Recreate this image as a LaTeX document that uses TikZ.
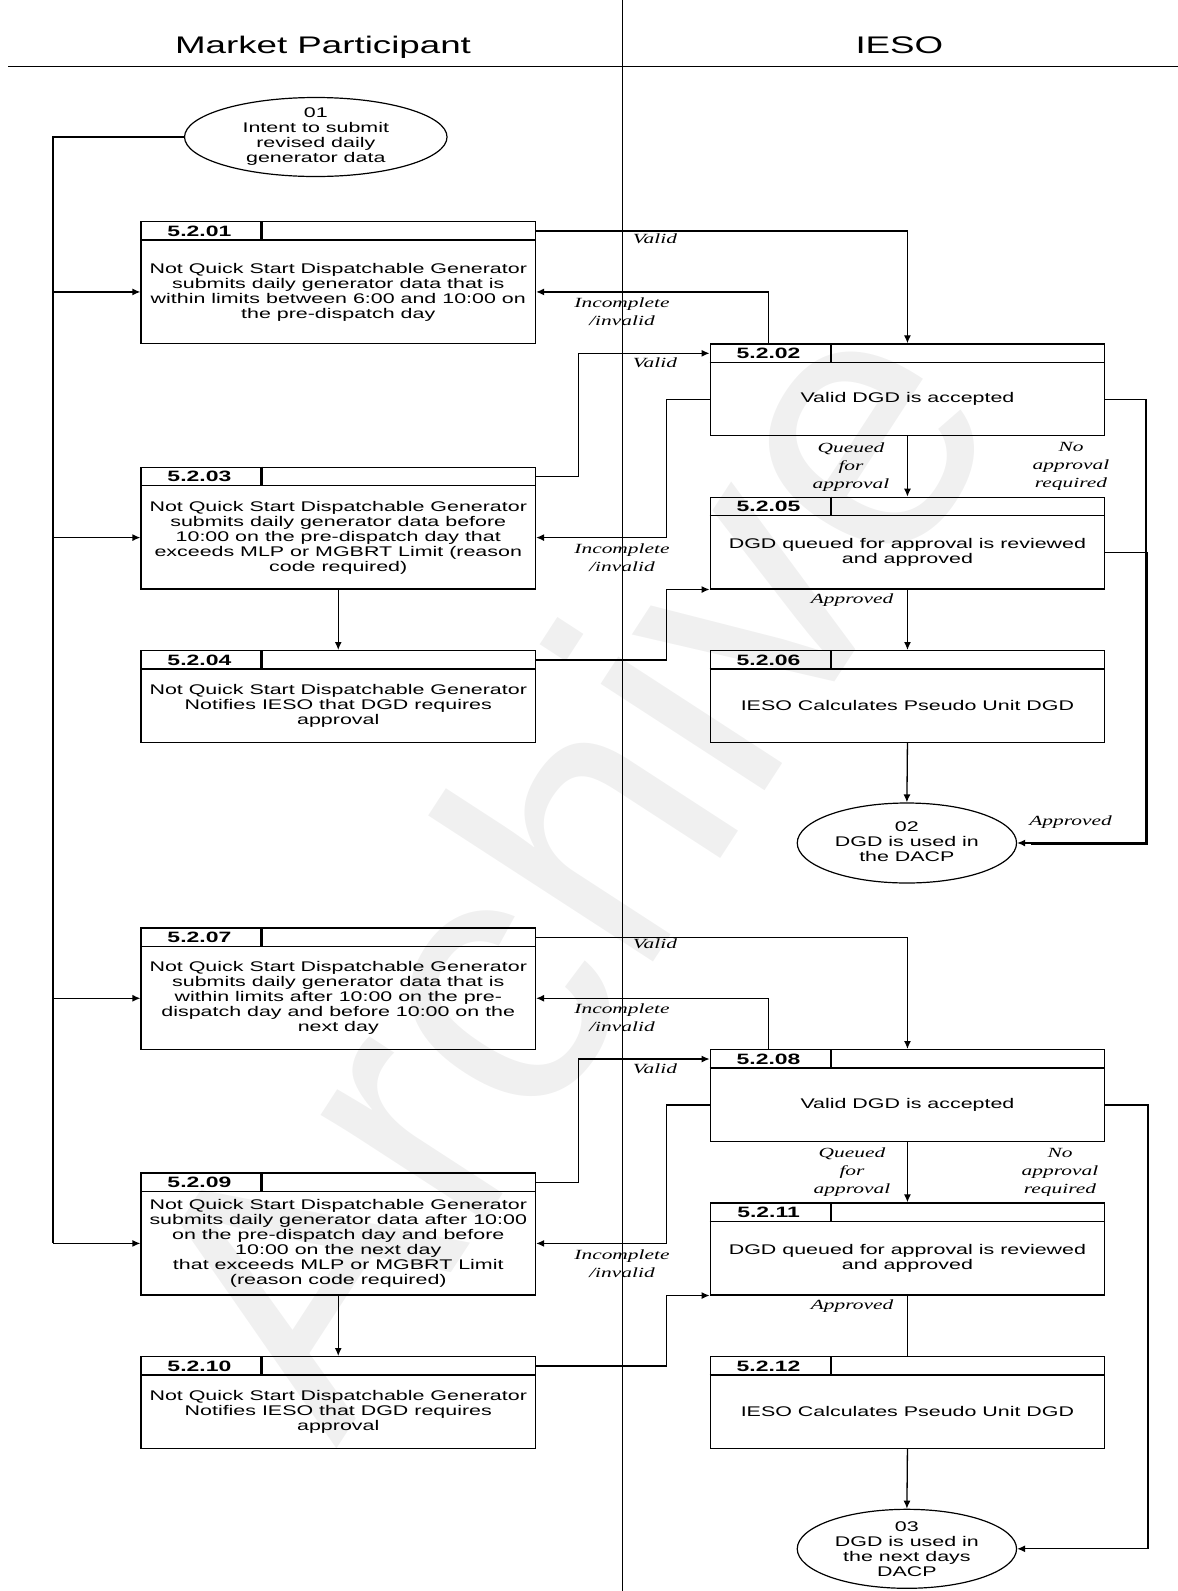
\documentclass[tikz,border=0pt]{standalone}
\usepackage{fontspec}
\setmainfont{Liberation Sans}[FakeStretch=1.53]
\newfontfamily\lblfont{Liberation Serif}[FakeStretch=1.53]
\newfontfamily\wmfont{Liberation Sans}
\usetikzlibrary{shapes.geometric,arrows.meta,calc}

\tikzset{
  procframe/.style={draw, rectangle, line width=1.2pt, minimum width=394.5pt, inner sep=0pt},
  procline/.style={line width=1.2pt},
  idsep/.style={line width=2.2pt},
  idtext/.style={font=\bfseries\fontsize{15}{15}\selectfont, inner sep=0pt},
  bodytext/.style={font=\fontsize{14}{15}\selectfont, align=center, inner sep=0pt},
  hdr/.style={font=\fontsize{24}{24}\selectfont, inner sep=0pt, anchor=base},
  lbl/.style={font=\lblfont\itshape\fontsize{14}{18}\selectfont, align=center, inner sep=0pt},
  ellip/.style={draw, ellipse, line width=1.2pt, inner sep=0pt},
  conn/.style={line width=1.3pt},
  heavy/.style={line width=2.6pt},
  arr/.style={conn, -{Latex[length=8pt,width=7pt]}},
  lane/.style={line width=1.3pt},
  watermark/.style={text=black!6, font=\wmfont\fontsize{370}{370}\selectfont, inner sep=0pt}
}

\newcommand{\procbox}[6]{%
  \node[procframe, minimum height=#4pt, anchor=north west] (#1) at (#2,#3) {};
  \draw[procline] ([yshift=-19pt]#1.north west) -- ([yshift=-19pt]#1.north east);
  \draw[idsep] ([xshift=121pt]#1.north west) -- ([xshift=121pt,yshift=-19pt]#1.north west);
  \node[idtext] (#1-id) at ([xshift=59pt,yshift=-10pt]#1.north west) {#5};
  \node[bodytext] (#1-t) at ($([yshift=-19pt]#1.north)!0.5!(#1.south)$) {#6};
}

\begin{document}
\begin{tikzpicture}[x=1pt, y=-1pt]
\useasboundingbox (0,0) rectangle (1178,1591);

% watermark
\node[watermark, rotate=57] (wm) at (562,860) {Archive};

% lanes
\node[hdr] (mp) at (323,53.3) {Market Participant};
\node[hdr] (ieso) at (899.4,53.3) {IESO};
\draw[lane] (8,66.7) -- (1178,66.7);
\draw[lane] (622.5,0) -- (622.5,1591);

% junction columns
\coordinate (trunk) at (53,137);
\coordinate (j3) at (578.6,476);
\coordinate (j4) at (666.5,400);
\coordinate (j5) at (1146,400);
\coordinate (j5b) at (1147.6,552);
\coordinate (j6) at (1148,1106);

% start / end events
\node[ellip, minimum width=262.5pt, minimum height=79pt] (e01) at (315.8,137) {};
\node[bodytext] (e01-t) at (e01.center) {01\\Intent to submit\\revised daily\\generator data};
\node[ellip, minimum width=219.3pt, minimum height=80pt] (e02) at (906.9,843) {};
\node[bodytext] (e02-t) at ([yshift=1.5pt]e02.center) {02\\DGD is used in\\the DACP};
\node[ellip, minimum width=219.3pt, minimum height=79pt] (e03) at (906.9,1548.8) {};
\node[bodytext] (e03-t) at (e03.center) {03\\DGD is used in\\the next days\\DACP};

% process boxes
\procbox{b01}{140.4}{221}{121.7}{5.2.01}{Not Quick Start Dispatchable Generator\\submits daily generator data that is\\within limits between 6:00 and 10:00 on\\the pre-dispatch day}
\procbox{b02}{709.6}{343.3}{91.7}{5.2.02}{Valid DGD is accepted}
\procbox{b03}{140.4}{466.7}{121.6}{5.2.03}{Not Quick Start Dispatchable Generator\\submits daily generator data before\\10:00 on the pre-dispatch day that\\exceeds MLP or MGBRT Limit (reason\\code required)}
\procbox{b04}{140.4}{650}{91.7}{5.2.04}{Not Quick Start Dispatchable Generator\\Notifies IESO that DGD requires\\approval}
\procbox{b05}{709.6}{496.7}{91.6}{5.2.05}{DGD queued for approval is reviewed\\and approved}
\procbox{b06}{709.6}{650}{91.7}{5.2.06}{IESO Calculates Pseudo Unit DGD}
\procbox{b07}{140.4}{927.3}{121.7}{5.2.07}{Not Quick Start Dispatchable Generator\\submits daily generator data that is\\within limits after 10:00 on the pre-\\dispatch day and before 10:00 on the\\next day}
\procbox{b08}{709.6}{1049}{91.7}{5.2.08}{Valid DGD is accepted}
\procbox{b09}{140.4}{1172.3}{122}{5.2.09}{Not Quick Start Dispatchable Generator\\submits daily generator data after 10:00\\on the pre-dispatch day and before\\10:00 on the next day\\that exceeds MLP or MGBRT Limit\\(reason code required)}
\procbox{b10}{140.4}{1356}{92}{5.2.10}{Not Quick Start Dispatchable Generator\\Notifies IESO that DGD requires\\approval}
\procbox{b11}{709.6}{1202.3}{92}{5.2.11}{DGD queued for approval is reviewed\\and approved}
\procbox{b12}{709.6}{1356}{91.7}{5.2.12}{IESO Calculates Pseudo Unit DGD}

% left trunk
\draw[heavy] (e01.west) -- (trunk) -- (trunk |- b01-t);
\draw[conn] (trunk |- b01-t) -- (trunk |- b09-t);
\draw[arr] (trunk |- b01-t) -- (b01-t -| b01.west);
\draw[arr] (trunk |- b03-t) -- (b03-t -| b03.west);
\draw[arr] (trunk |- b07-t) -- (b07-t -| b07.west);
\draw[arr] (trunk |- b09-t) -- (b09-t -| b09.west);

% upper section
\draw[arr] (b01-id -| b01.east) -| (b02.north);
\node[lbl] (l1) at (655,239) {Valid};
\draw[arr] (b02-id |- b02.north) |- (b01-t -| b01.east);
\node[lbl] (l2) at (622,312) {Incomplete\\/invalid};
\draw[arr] (b03-id -| b03.east) -- (b03-id -| j3) |- (b02-id -| b02.west);
\node[lbl] (l3) at (655,362.3) {Valid};
\draw[arr] (b02-t -| b02.west) -- (b02-t -| j4) |- (b03-t -| b03.east);
\node[lbl] (l4) at (622,558) {Incomplete\\/invalid};
\draw[arr] (b02.south) -- (b05.north);
\node[lbl] (l5) at (851,466.7) {Queued\\for\\approval};
\node[lbl] (l6) at (1071,466.7) {No\\approval\\required};
\draw[arr] (b02-t -| b02.east) -- (b02-t -| j5) |- (e02.east);
\draw[conn] (b05-t -| b05.east) -- (b05-t -| j5b) |- ([xshift=14pt,yshift=-1.4pt]e02.east);
\node[lbl] (l7) at (1070.5,822.3) {Approved};
\draw[arr] (b03.south) -- (b04.north);
\draw[arr] (b04-id -| b04.east) -- (b04-id -| j4) |- (b05.south west);
\node[lbl] (l8) at (852,600) {Approved};
\draw[arr] (b05.south) -- (b06.north);
\draw[arr] (b06.south) -- (e02.north);

% lower section
\draw[arr] (b07-id -| b07.east) -| (b08.north);
\node[lbl] (l9) at (655,943.3) {Valid};
\draw[arr] (b08-id |- b08.north) |- (b07-t -| b07.east);
\node[lbl] (l10) at (622,1018) {Incomplete\\/invalid};
\draw[arr] (b09-id -| b09.east) -- (b09-id -| j3) |- (b08-id -| b08.west);
\node[lbl] (l11) at (655,1068.3) {Valid};
\draw[arr] (b08-t -| b08.west) -- (b08-t -| j4) |- (b09-t -| b09.east);
\node[lbl] (l12) at (622,1263.5) {Incomplete\\/invalid};
\draw[arr] (b08.south) -- (b11.north);
\node[lbl] (l13) at (852,1172.3) {Queued\\for\\approval};
\node[lbl] (l14) at (1060,1172.3) {No\\approval\\required};
\draw[arr] (b08-t -| b08.east) -- (b08-t -| j6) |- (e03.east);
\draw[arr] (b09.south) -- (b10.north);
\draw[arr] (b10-id -| b10.east) -- (b10-id -| j4) |- (b11.south west);
\node[lbl] (l15) at (852,1306) {Approved};
\draw[conn] (b11.south) -- (b12.north);
\draw[arr] (b12.south) -- (e03.north);
\end{tikzpicture}
\end{document}
